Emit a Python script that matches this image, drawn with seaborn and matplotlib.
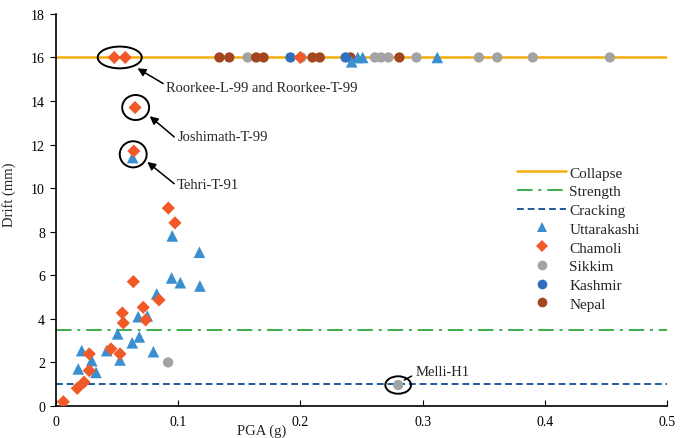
import matplotlib
matplotlib.use("Agg")
import matplotlib.pyplot as plt
from matplotlib.patches import Ellipse
from matplotlib.lines import Line2D
import seaborn as sns
import pandas as pd

# ---- data ----
utt_x = [0.0186, 0.0214, 0.0296, 0.0331, 0.0418, 0.0508, 0.0527, 0.0627, 0.0676, 0.0685,
         0.075, 0.080, 0.0827, 0.0954, 0.0949, 0.102, 0.1176, 0.118, 0.063,
         0.242, 0.247, 0.251, 0.312]
utt_y = [1.69, 2.53, 2.07, 1.53, 2.53, 3.30, 2.10, 2.89, 4.09, 3.16,
         4.12, 2.48, 5.14, 7.8, 5.87, 5.65, 7.05, 5.5, 11.4,
         15.8, 16.0, 16.0, 16.0]
cha_x = [0.0064, 0.0178, 0.0233, 0.0276, 0.0276, 0.0453, 0.0527, 0.0546, 0.0554, 0.0636,
         0.0717, 0.0737, 0.0846, 0.0922, 0.0976, 0.064, 0.065, 0.048, 0.057, 0.200]
cha_y = [0.18, 0.80, 1.08, 1.61, 2.38, 2.61, 2.38, 4.26, 3.80, 5.70,
         4.52, 3.94, 4.86, 9.08, 8.40, 11.7, 13.7, 16.0, 16.0, 16.0]
sik_x = [0.092, 0.280, 0.157, 0.201, 0.261, 0.266, 0.272, 0.295, 0.346, 0.361, 0.390, 0.453]
sik_y = [1.99, 0.95, 16, 16, 16, 16, 16, 16, 16, 16, 16, 16]
kas_x = [0.192, 0.237]
kas_y = [16, 16]
nep_x = [0.134, 0.142, 0.164, 0.170, 0.210, 0.216, 0.241, 0.281]
nep_y = [16, 16, 16, 16, 16, 16, 16, 16]

collapse_level = 16.0
strength_level = 3.5
cracking_level = 1.0

regions = ["Uttarakashi", "Chamoli", "Sikkim", "Kashmir", "Nepal"]
colors = {"Uttarakashi": "#3a8fd0", "Chamoli": "#f15a28", "Sikkim": "#a3a3a3",
          "Kashmir": "#2f6fbd", "Nepal": "#a4461f"}
markers = {"Uttarakashi": "^", "Chamoli": "D", "Sikkim": "o", "Kashmir": "o", "Nepal": "o"}
sizes = {"Uttarakashi": 70, "Chamoli": 45, "Sikkim": 55, "Kashmir": 55, "Nepal": 55}

frames = []
for name, xs, ys in [("Uttarakashi", utt_x, utt_y), ("Chamoli", cha_x, cha_y),
                     ("Sikkim", sik_x, sik_y), ("Kashmir", kas_x, kas_y), ("Nepal", nep_x, nep_y)]:
    frames.append(pd.DataFrame({"PGA": xs, "Drift": ys, "Region": name}))
df = pd.concat(frames, ignore_index=True)

sns.set_style("ticks")
plt.rcParams["font.family"] = ["Liberation Serif", "DejaVu Serif"]

fig = plt.figure(figsize=(6.81, 4.39), dpi=100)
ax = fig.add_axes([0.0815, 0.0736, 0.8985, 0.8924])

ax.axhline(collapse_level, color="#f5ad0f", lw=1.8, zorder=1)
ax.axhline(strength_level, color="#3cae4a", lw=1.4, ls=(0, (8, 3, 1.5, 3)), zorder=1)
ax.axhline(cracking_level, color="#1f5b9c", lw=1.4, ls=(0, (3.5, 2)), zorder=1)

for r in ["Sikkim", "Nepal", "Kashmir", "Uttarakashi", "Chamoli"]:
    sub = df[df["Region"] == r]
    sns.scatterplot(data=sub, x="PGA", y="Drift", ax=ax, color=colors[r], marker=markers[r],
                    s=sizes[r], edgecolor="none", linewidth=0, zorder=3, legend=False)

ax.set_xlim(0, 0.5)
ax.set_ylim(0, 18)
ax.set_xticks([0, 0.1, 0.2, 0.3, 0.4, 0.5])
ax.set_xticklabels(["0", "0.1", "0.2", "0.3", "0.4", "0.5"])
ax.set_yticks(range(0, 19, 2))
sns.despine(ax=ax)
for s in ["left", "bottom"]:
    ax.spines[s].set_color("black")
    ax.spines[s].set_linewidth(1.2)
ax.tick_params(axis="x", direction="in", length=4, labelsize=10, colors="black", pad=7)
ax.tick_params(axis="y", direction="out", length=4, labelsize=10, colors="black")
ax.set_xlabel("PGA (g)", fontsize=10.5)
ax.set_ylabel("Drift (mm)", fontsize=10.5)
ax.xaxis.set_label_coords(0.337, -0.045)
ax.yaxis.set_label_coords(-0.065, 0.54)

# annotations
def ring(cx, cy, w, h):
    ax.add_patch(Ellipse((cx, cy), w, h, fill=False, ec="black", lw=1.4, zorder=4))

ring(0.0525, 16.0, 0.036, 1.0)
ring(0.0655, 13.7, 0.022, 1.15)
ring(0.0635, 11.55, 0.022, 1.2)
ring(0.280, 0.95, 0.021, 0.8)

arrow = dict(arrowstyle="-|>", color="black", lw=1.1, mutation_scale=12, shrinkA=0, shrinkB=0)
ax.annotate("", xy=(0.067, 15.5), xytext=(0.088, 14.8), arrowprops=arrow)
ax.text(0.090, 14.6, "Roorkee-L-99 and Roorkee-T-99", fontsize=10.5, va="center", ha="left")
ax.annotate("", xy=(0.077, 13.3), xytext=(0.097, 12.35), arrowprops=arrow)
ax.text(0.100, 12.35, "Joshimath-T-99", fontsize=10.5, va="center", ha="left")
ax.annotate("", xy=(0.075, 11.2), xytext=(0.097, 10.2), arrowprops=arrow)
ax.text(0.099, 10.15, "Tehri-T-91", fontsize=10.5, va="center", ha="left")
ax.annotate("", xy=(0.283, 1.12), xytext=(0.293, 1.42), arrowprops=dict(arrowstyle="-", color="black", lw=1.1))
ax.text(0.294, 1.55, "Melli-H1", fontsize=10.5, va="center", ha="left")

handles = [
    Line2D([], [], color="#f5ad0f", lw=1.8),
    Line2D([], [], color="#3cae4a", lw=1.4, ls=(0, (8, 3, 1.5, 3))),
    Line2D([], [], color="#1f5b9c", lw=1.4, ls=(0, (3.5, 2))),
]
labels = ["Collapse", "Strength", "Cracking"]
for r in regions:
    handles.append(Line2D([], [], ls="none", marker=markers[r], color=colors[r],
                          markersize=7 if markers[r] != "D" else 6, markeredgewidth=0))
    labels.append(r)
ax.legend(handles, labels, loc="upper left", bbox_to_anchor=(0.755, 0.612), frameon=False,
          fontsize=11, handlelength=3.2, handletextpad=0.2, labelspacing=0.33,
          borderaxespad=0, borderpad=0)

fig.savefig("out.png", dpi=100)
